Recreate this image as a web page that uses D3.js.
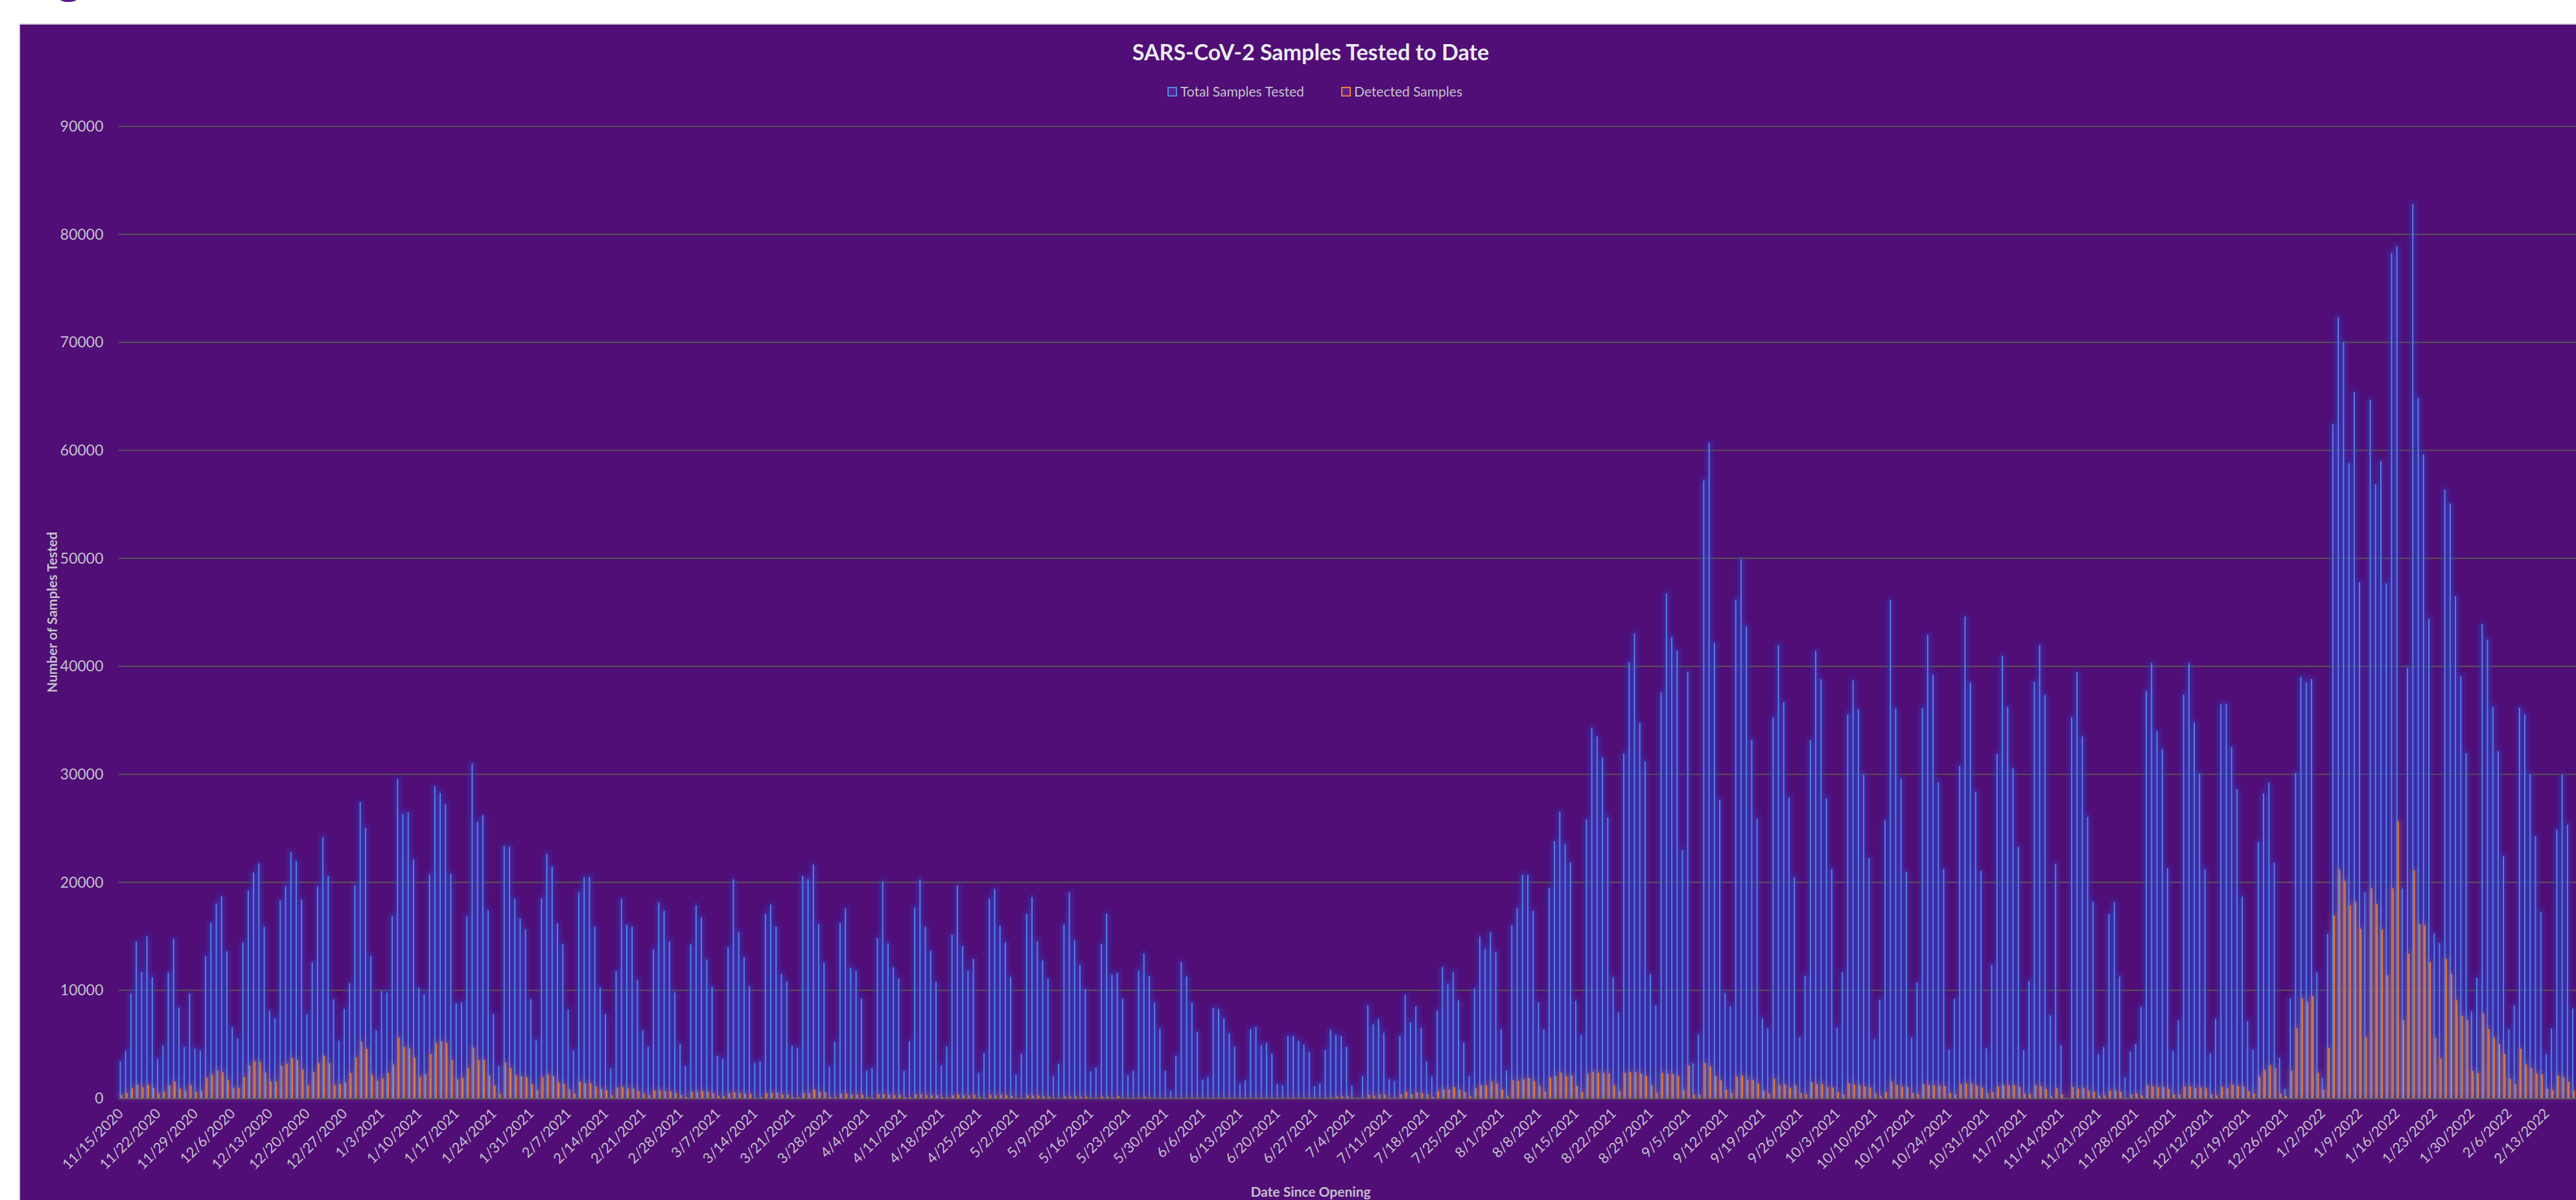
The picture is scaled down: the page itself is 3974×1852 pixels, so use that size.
<!DOCTYPE html>
<html>
<head>
<meta charset="utf-8">
<script src="https://cdn.jsdelivr.net/npm/d3@7"></script>
<style>
  html, body { margin: 0; padding: 0; background: #ffffff; overflow: hidden; }
  svg { display: block; }
  text { font-family: Lato, "Open Sans", "Liberation Sans", sans-serif; }
</style>
</head>
<body>
<svg id="chart" width="3974" height="1852"></svg>
<script>
// ---------------- DATA ----------------
const chartTitle = "SARS-CoV-2 Samples Tested to Date";
const seriesNames = ["Total Samples Tested", "Detected Samples"];
const yAxisTitle = "Number of Samples Tested";
const xAxisTitle = "Date Since Opening";
const firstDate = "2020-11-15";   // first category (daily categories)
const dayCount = 461;             // daily categories visible in the picture

const tickLabels = ["11/15/2020","11/22/2020","11/29/2020","12/6/2020","12/13/2020","12/20/2020","12/27/2020",
  "1/3/2021","1/10/2021","1/17/2021","1/24/2021","1/31/2021","2/7/2021","2/14/2021","2/21/2021","2/28/2021",
  "3/7/2021","3/14/2021","3/21/2021","3/28/2021","4/4/2021","4/11/2021","4/18/2021","4/25/2021","5/2/2021",
  "5/9/2021","5/16/2021","5/23/2021","5/30/2021","6/6/2021","6/13/2021","6/20/2021","6/27/2021","7/4/2021",
  "7/11/2021","7/18/2021","7/25/2021","8/1/2021","8/8/2021","8/15/2021","8/22/2021","8/29/2021","9/5/2021",
  "9/12/2021","9/19/2021","9/26/2021","10/3/2021","10/10/2021","10/17/2021","10/24/2021","10/31/2021",
  "11/7/2021","11/14/2021","11/21/2021","11/28/2021","12/5/2021","12/12/2021","12/19/2021","12/26/2021",
  "1/2/2022","1/9/2022","1/16/2022","1/23/2022","1/30/2022","2/6/2022","2/13/2022"];

const yTicks = [0,10000,20000,30000,40000,50000,60000,70000,80000,90000];

const totalSamples = [
3400,4400,9700,14500,11700,15000,11200,3650,4890,11630,14770,8400,4760,9700,4600,4410,13170,16230,18020,18690,
13610,6600,5510,14440,19220,20900,21760,15880,8130,7410,18320,19630,22810,21950,18400,7780,12620,19630,24200,20590,
9170,5336,8270,10650,19720,27430,25050,13180,6300,9920,9790,16910,29550,26320,26470,22120,10240,9640,20720,28890,
28270,27220,20790,8810,8890,16840,31010,25590,26210,17420,7800,2979,23360,23290,18450,16650,15640,9170,5357,18520,
22630,21430,16200,14290,8230,4415,19050,20440,20510,15860,10260,7800,2743,11770,18450,16050,15880,10970,6300,4779,
13780,18150,17340,14510,9810,5036,3000,14250,17870,16720,12840,10330,3943,3643,13970,20270,15410,13050,10370,3257,
3429,17080,17940,15900,11510,10800,4865,4650,20590,20270,21640,16140,12560,2936,5230,16240,17570,12070,11810,9215,
2550,2807,14830,20080,14360,12130,11100,2530,5290,17660,20270,15860,13650,10780,3064,4800,15130,19720,14100,11830,
12900,2357,4180,18470,19390,15990,14440,11250,2207,4115,17080,18640,14550,12750,11080,2036,3193,16070,19050,14620,
12340,10110,2507,2871,14270,17100,11420,11610,9190,2121,2529,11830,13410,11330,8870,6430,2529,664,3900,12620,
11270,8850,6150,1714,1950,8360,8270,7410,6040,4780,1350,1670,6400,6580,4930,5140,4110,1330,1200,5780,
5780,5330,4960,4300,1100,1390,4470,6350,5900,5780,4750,1150,100,2050,8600,6840,7340,6070,1760,1600,
5780,9550,7010,8520,6520,3400,2010,8110,12170,10570,11680,9060,5160,2090,10160,14960,13850,15370,13520,6430,
2580,16020,17620,20700,20700,17340,8900,6360,19490,23820,26550,23560,21850,9030,5850,25820,34340,33520,31550,26010,
11230,7950,31930,40390,43060,34760,31200,11510,8590,37590,46750,42710,41470,22990,39500,3240,5910,57200,60700,42170,
27630,9760,8520,46170,49900,43690,33170,25890,7410,6460,35270,41980,36670,27830,20470,5650,11340,33170,41430,38790,
27770,21240,6550,11680,35560,38700,36030,29940,22240,5470,9130,25750,46150,36090,29600,20960,5620,10720,36150,42920,
39200,29260,21240,4500,9190,30780,44600,38480,28360,21060,4630,12360,31900,40970,36220,30560,23260,4470,10870,38580,
41960,37350,7670,21710,4930,0,35280,39470,33510,26050,18200,4100,4750,17080,18170,11270,1920,4340,5040,8440,
37730,40300,34010,32360,21300,4370,7200,37380,40300,34810,30060,21210,4130,7350,36490,36550,32510,28620,18670,7140,
4510,23720,28230,29260,21800,3750,885,9260,30120,39030,38520,38820,11660,1870,15200,62430,72330,70000,58810,65390,
47790,19060,64690,56840,59020,47690,78280,78910,19410,39870,82820,64860,59620,44410,15260,14370,56380,55080,46490,39060,
31970,8060,11150,43920,42480,36250,32130,22410,6390,8610,36180,35540,30000,24280,17250,4090,6450,24880,29950,25340,
8290];

const detectedSamples = [
320,480,936,1257,1016,1257,963,428,615,1177,1551,882,669,1230,562,669,1899,2166,2567,2407,
1711,963,936,1979,3022,3423,3369,2380,1551,1551,2995,3209,3717,3530,2647,1177,2433,3236,3960,3240,
1243,1307,1457,2336,3750,5230,4565,2207,1629,1843,2336,3129,5636,4757,4607,3750,1993,2229,4093,5100,
5272,5143,3536,1714,1886,2807,4693,3514,3557,2122,1179,386,3322,2807,2122,2036,1929,1286,750,1929,
2207,2036,1479,1350,814,429,1543,1393,1393,1072,857,750,300,986,1050,900,900,664,429,279,
729,750,643,643,471,300,107,579,579,664,579,471,214,193,471,536,471,429,407,50,
107,471,471,536,340,321,107,107,470,470,793,579,536,107,107,429,429,321,364,321,
107,43,364,364,321,279,321,107,107,364,364,279,279,279,107,107,279,321,279,279,
321,107,43,321,279,321,279,236,43,43,279,236,257,193,150,43,43,193,150,193,
150,150,43,43,150,150,60,193,60,30,30,60,150,60,60,60,30,10,30,60,
60,60,60,30,30,60,60,60,60,60,20,20,60,60,60,60,60,20,20,60,
60,60,60,60,20,20,60,80,164,164,205,40,10,60,328,246,328,328,60,60,
369,574,369,533,451,328,123,656,820,820,1025,779,574,205,902,1230,1189,1558,1394,779,
246,1681,1599,1763,1886,1599,1150,636,1908,2035,2385,2035,2099,1145,572,2258,2449,2353,2353,2290,
1208,636,2353,2417,2417,2290,2067,1208,509,2353,2290,2226,2035,763,3021,318,318,3244,2926,2067,
1654,795,477,2003,2099,1717,1717,1367,700,413,1813,1208,1272,940,1180,466,373,1491,1305,1336,
1025,994,559,311,1398,1274,1211,1087,994,435,248,559,1553,1242,1056,1025,466,373,1305,1211,
1180,1149,1149,466,373,1305,1398,1367,1149,994,466,559,1087,1242,1180,1211,1025,404,373,1242,
1149,860,207,944,354,0,1033,885,944,708,590,266,266,708,738,590,59,354,443,266,
1239,1092,1033,1033,856,354,354,1092,1092,944,1003,915,354,266,1062,944,1239,1121,1092,649,
413,2006,2626,3068,2773,443,207,2567,6490,9260,8900,9475,2360,806,4640,16910,21170,20130,17860,18200,
15700,5645,19470,17970,15610,11380,19440,25630,7200,13390,21110,16130,16010,12610,5590,3690,12930,11520,9070,7630,
7200,2530,2330,7860,6420,5620,5010,4090,1790,1300,4580,3140,2790,2300,2220,864,749,2100,1990,1530,
700];

// ---------------- DRAW ----------------
const svg = d3.select("#chart");
const fmt = d3.timeFormat("%-m/%-d/%Y");
const start = d3.timeParse("%Y-%m-%d")(firstDate);
const categories = d3.timeDay.range(start, d3.timeDay.offset(start, dayCount)).map(fmt);

const plotLeft = 182.5, plotTop = 195, plotBottom = 1695;
const step = 8.225;
const x = d3.scaleBand().domain(categories)
  .range([plotLeft, plotLeft + categories.length * step]).paddingInner(0).paddingOuter(0);
const y = d3.scaleLinear().domain([0, 90000]).range([plotBottom, plotTop]);

const rows = categories.map((c, i) => ({ c, total: totalSamples[i], detected: detectedSamples[i] }));

const defs = svg.append("defs");
defs.append("filter").attr("id", "blurB").attr("filterUnits", "userSpaceOnUse")
  .attr("x", 0).attr("y", 0).attr("width", 4200).attr("height", 1852)
  .append("feGaussianBlur").attr("stdDeviation", 4.5);
defs.append("filter").attr("id", "blurO").attr("filterUnits", "userSpaceOnUse")
  .attr("x", 0).attr("y", 0).attr("width", 4200).attr("height", 1852)
  .append("feGaussianBlur").attr("stdDeviation", 4.5);

// page decoration: partial heading glyph above the chart
svg.append("text").attr("x", 86).attr("y", -12).attr("font-size", 80).attr("font-weight", 700)
  .attr("fill", "#5c168c").text("g");

// chart background
svg.append("rect").attr("x", 30).attr("y", 37).attr("width", 4100).attr("height", 1900)
  .attr("fill", "#500e76").attr("stroke", "#d6d6d6").attr("stroke-width", 2);

// gridlines
svg.append("g").selectAll("line").data(yTicks).join("line")
  .attr("x1", 183).attr("x2", 3974).attr("y1", d => y(d)).attr("y2", d => y(d))
  .attr("stroke", "#5b5f4e").attr("stroke-width", 1.6);

// glows
svg.append("g").attr("filter", "url(#blurB)").attr("opacity", 0.68)
  .selectAll("rect").data(rows).join("rect")
  .attr("x", d => x(d.c) + x.bandwidth() / 2 - 4.5).attr("width", 7)
  .attr("y", d => y(d.total) - 3).attr("height", d => Math.max(0, y(0) - y(d.total) + 3))
  .attr("fill", "#3040cc");
svg.append("g").attr("filter", "url(#blurO)").attr("opacity", 0.34)
  .selectAll("rect").data(rows).join("rect")
  .attr("x", d => x(d.c) + x.bandwidth() / 2 - 2.5).attr("width", 7)
  .attr("y", d => y(d.detected) - 3).attr("height", d => Math.max(0, y(0) - y(d.detected) + 3))
  .attr("fill", "#f07a20");

// bars
svg.append("g").selectAll("rect").data(rows).join("rect")
  .attr("x", d => x(d.c) + x.bandwidth() / 2 - 2.0).attr("width", 1.9)
  .attr("y", d => y(d.total)).attr("height", d => y(0) - y(d.total))
  .attr("fill", "#5088e2");
svg.append("g").selectAll("rect").data(rows).join("rect")
  .attr("x", d => x(d.c) + x.bandwidth() / 2 + 0.1).attr("width", 1.9)
  .attr("y", d => y(d.detected)).attr("height", d => y(0) - y(d.detected))
  .attr("fill", "#ef7d2e");

// x axis
const xAxis = svg.append("g").attr("transform", `translate(0,${plotBottom})`)
  .call(d3.axisBottom(x).tickValues(tickLabels).tickSize(0).tickSizeOuter(0));
xAxis.select(".domain").attr("stroke", "#5b5f4e").attr("stroke-width", 1.6);
xAxis.selectAll("text")
  .attr("x", 5).attr("y", 25).attr("dy", 0)
  .attr("transform", "rotate(-45 5 25)")
  .attr("text-anchor", "end")
  .attr("font-size", 22).attr("fill", "#c4c0cc")
  .style("font-family", "Lato, 'Open Sans', sans-serif");

// y axis
const yAxis = svg.append("g").attr("transform", `translate(${plotLeft},0)`)
  .call(d3.axisLeft(y).tickValues(yTicks).tickFormat(d3.format("d")).tickSize(0).tickPadding(23));
yAxis.select(".domain").remove();
yAxis.selectAll("text").attr("font-size", 23).attr("fill", "#c4c0cc")
  .style("font-family", "Lato, 'Open Sans', sans-serif");

// title
svg.append("text").attr("x", 2022).attr("y", 93).attr("text-anchor", "middle")
  .attr("font-size", 34).attr("font-weight", 700).attr("fill", "#ececf2").text(chartTitle);

// legend
const legendColors = ["#5088e2", "#ef7d2e"];
const legendX = [1802, 2070];
const lg = svg.append("g");
seriesNames.forEach((n, i) => {
  lg.append("rect").attr("x", legendX[i]).attr("y", 135).attr("width", 13).attr("height", 13)
    .attr("fill", "#5a2090").attr("stroke", legendColors[i]).attr("stroke-width", 2);
  lg.append("text").attr("x", legendX[i] + 19).attr("y", 149).attr("font-size", 21)
    .attr("fill", "#c4c0cc").text(n);
});

// axis titles
svg.append("text").attr("transform", "translate(88,945) rotate(-90)").attr("text-anchor", "middle")
  .attr("font-size", 21).attr("font-weight", 700).attr("fill", "#c4c0cc").text(yAxisTitle);
svg.append("text").attr("x", 2022).attr("y", 1847).attr("text-anchor", "middle")
  .attr("font-size", 21).attr("font-weight", 700).attr("fill", "#c4c0cc").text(xAxisTitle);
</script>
</body>
</html>
